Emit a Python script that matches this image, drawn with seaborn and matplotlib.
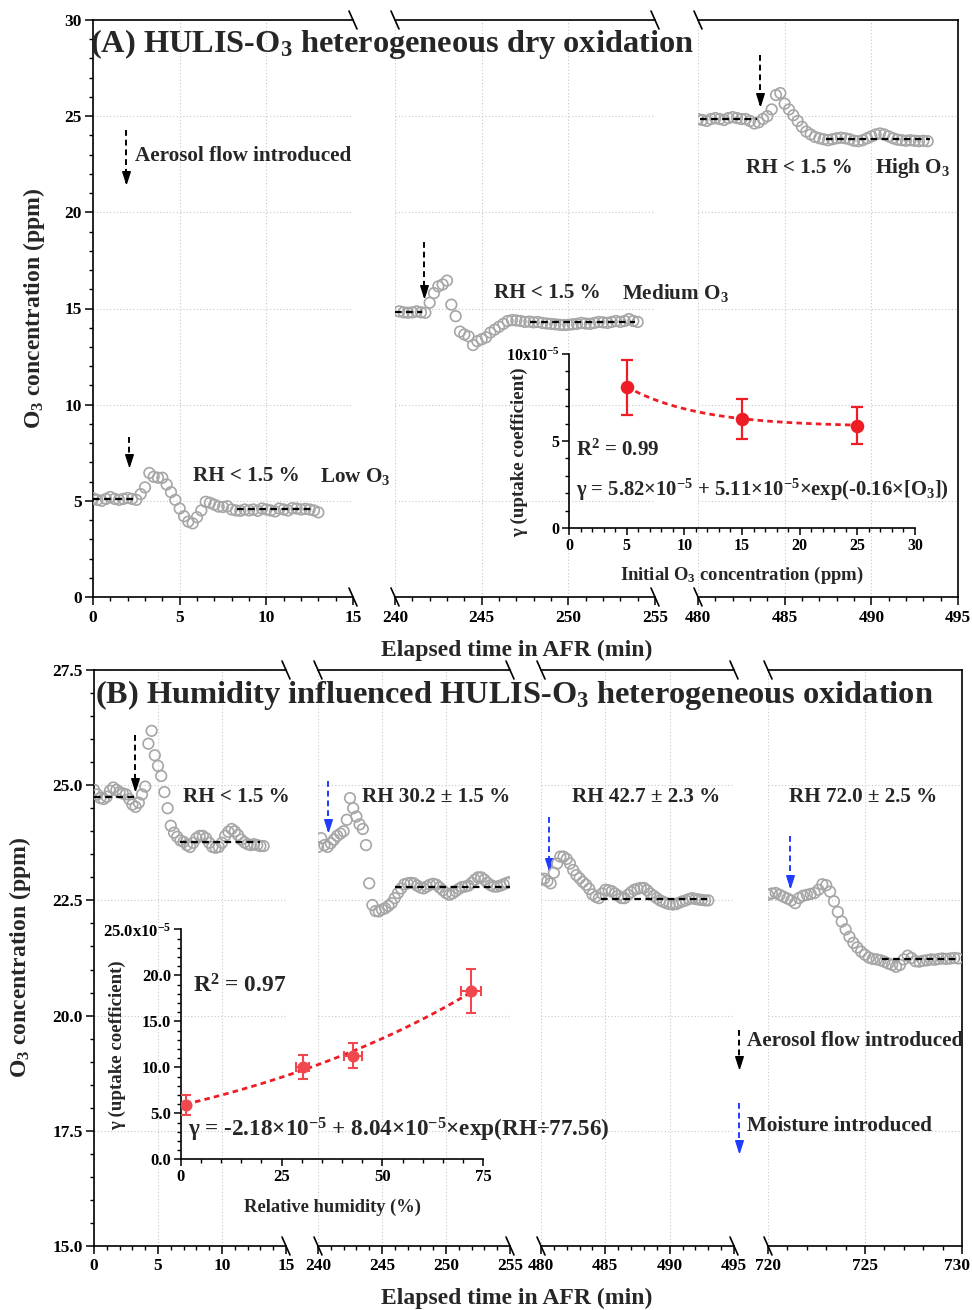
import numpy as np
import pandas as pd
import matplotlib
matplotlib.use("Agg")
import matplotlib.pyplot as plt
import matplotlib.ticker as ticker
import matplotlib.transforms as mtransforms
import seaborn as sns

sns.set_theme(style="ticks")
plt.rcParams["font.family"] = ["Liberation Serif", "DejaVu Serif"]
plt.rcParams["font.weight"] = "bold"
plt.rcParams["axes.labelweight"] = "bold"
plt.rcParams["mathtext.fontset"] = "custom"
plt.rcParams["mathtext.default"] = "regular"
plt.rcParams["axes.linewidth"] = 1.2

W, H = 972, 1310

# ── data ─────────────────────────────────────────────────────────────────────
STEP = 0.25          # sampling step (min) of the O3 monitor

# panel A: dry oxidation at three O3 levels
a1_start = 0.0
a1_o3 = [5.13, 5.05, 5.00, 5.10, 5.20, 5.10, 5.05, 5.10, 5.15, 5.10,
         5.05, 5.35, 5.70, 6.45, 6.25, 6.20, 6.20, 5.85, 5.45, 5.05,
         4.60, 4.20, 3.92, 3.83, 4.15, 4.50, 4.95, 4.90, 4.80, 4.70,
         4.68, 4.72, 4.55, 4.50, 4.48, 4.55, 4.50, 4.55, 4.48, 4.60,
         4.55, 4.50, 4.45, 4.60, 4.55, 4.50, 4.62, 4.60, 4.55, 4.58,
         4.55, 4.50, 4.40]
a2_start = 240.25
a2_o3 = [14.85, 14.80, 14.78, 14.80, 14.85, 14.80, 14.78, 15.30, 15.80, 16.15,
         16.25, 16.45, 15.20, 14.60, 13.80, 13.65, 13.55, 13.10, 13.30, 13.40,
         13.50, 13.75, 13.90, 14.05, 14.20, 14.35, 14.40, 14.38, 14.35, 14.30,
         14.32, 14.28, 14.30, 14.25, 14.22, 14.20, 14.18, 14.15, 14.14, 14.15,
         14.18, 14.20, 14.25, 14.22, 14.20, 14.25, 14.30, 14.28, 14.25, 14.30,
         14.35, 14.30, 14.35, 14.45, 14.35, 14.30]
a3_start = 480.0
a3_o3 = [24.85, 24.80, 24.75, 24.85, 24.90, 24.85, 24.80, 24.90, 24.95, 24.90,
         24.85, 24.85, 24.75, 24.62, 24.68, 24.85, 25.00, 25.35, 26.10, 26.20,
         25.65, 25.35, 25.05, 24.75, 24.45, 24.20, 24.05, 23.92, 23.85, 23.80,
         23.75, 23.80, 23.85, 23.88, 23.85, 23.80, 23.72, 23.70, 23.75, 23.85,
         23.95, 24.05, 24.10, 24.05, 23.95, 23.85, 23.78, 23.75, 23.72, 23.75,
         23.72, 23.70, 23.72, 23.70]

# panel B: high O3 at four humidity levels
b1_start = 0.0
b1_o3 = [24.90, 24.80, 24.72, 24.70, 24.75, 24.88, 24.95, 24.90, 24.85, 24.82,
         24.80, 24.70, 24.58, 24.53, 24.62, 24.80, 24.97, 25.90, 26.18, 25.65,
         25.42, 25.20, 24.85, 24.50, 24.12, 23.97, 23.88, 23.80, 23.77, 23.70,
         23.66, 23.75, 23.85, 23.90, 23.90, 23.85, 23.75, 23.66, 23.64, 23.66,
         23.75, 23.90, 23.99, 24.05, 24.00, 23.92, 23.82, 23.76, 23.72, 23.70,
         23.72, 23.70, 23.68, 23.68]
b2_start = 240.0
b2_o3 = [23.66, 23.85, 23.70, 23.66, 23.74, 23.82, 23.90, 23.95, 24.00, 24.25,
         24.72, 24.50, 24.32, 24.15, 24.05, 23.70, 22.87, 22.40, 22.27, 22.26,
         22.30, 22.33, 22.38, 22.44, 22.55, 22.66, 22.76, 22.85, 22.87, 22.88,
         22.87, 22.82, 22.78, 22.76, 22.80, 22.84, 22.86, 22.84, 22.78, 22.72,
         22.66, 22.62, 22.65, 22.70, 22.75, 22.79, 22.80, 22.82, 22.88, 22.95,
         23.00, 23.00, 22.95, 22.88, 22.83, 22.80, 22.80, 22.82, 22.85, 22.88,
         22.90]
b3_start = 480.0
b3_o3 = [22.95, 22.97, 22.92, 22.87, 23.10, 23.30, 23.45, 23.45, 23.40, 23.30,
         23.16, 23.05, 22.98, 22.90, 22.84, 22.75, 22.63, 22.58, 22.55, 22.65,
         22.73, 22.72, 22.70, 22.65, 22.60, 22.55, 22.55, 22.62, 22.68, 22.73,
         22.75, 22.77, 22.77, 22.72, 22.65, 22.60, 22.55, 22.50, 22.47, 22.44,
         22.42, 22.41, 22.42, 22.45, 22.48, 22.50, 22.53, 22.55, 22.53, 22.52,
         22.51, 22.50, 22.50]
b4_start = 720.0
b4_step = 0.2
b4_o3 = [22.62, 22.65, 22.66, 22.62, 22.58, 22.54, 22.50, 22.44, 22.55, 22.60,
         22.62, 22.64, 22.66, 22.73, 22.85, 22.83, 22.69, 22.48, 22.25, 22.04,
         21.87, 21.71, 21.58, 21.48, 21.39, 21.32, 21.26, 21.23, 21.22, 21.20,
         21.17, 21.13, 21.10, 21.06, 21.10, 21.22, 21.30, 21.25, 21.18, 21.17,
         21.19, 21.20, 21.22, 21.21, 21.23, 21.24, 21.23, 21.24, 21.25, 21.24]

# steady-state levels (t_start, t_end, ppm)
a_base = [[(0.0, 2.3, 5.10), (8.3, 12.7, 4.55)],
          [(240.0, 241.55, 14.80), (247.8, 253.85, 14.32)],
          [(480.1, 483.4, 24.85), (487.4, 493.4, 23.80)]]
b_base = [[(0.0, 3.45, 24.75), (6.7, 12.95, 23.76)],
          [(246.0, 255.0, 22.80)],
          [(484.7, 492.9, 22.52)],
          [(725.86, 729.9, 21.22)]]

# inset A: uptake coefficient vs initial O3 (x1e-5)
o3_init = [5, 15, 25]
gamma_a = [8.08, 6.28, 5.89]
gamma_a_err = [1.57, 1.16, 1.05]
fit_a = (5.82, 5.11, -0.16)          # y0 + A*exp(k*x)

# inset B: uptake coefficient vs RH (x1e-5)
rh = [1.2, 30.2, 42.7, 72.0]
rh_err = [0.3, 1.5, 2.3, 2.5]
gamma_b = [5.90, 10.07, 11.27, 18.30]
gamma_b_err = [1.05, 1.30, 1.35, 2.35]
fit_b = (-2.18, 8.04, 77.56)         # y0 + A*exp(x/t)

GREY = "#a6a6a6"
RED = "#ee1c24"
RED_B = "#f0484e"
BLUE = "#1f3cff"


# ── helpers ──────────────────────────────────────────────────────────────────

def frac(x0, y0, x1, y1):
    return [x0 / W, 1 - y1 / H, (x1 - x0) / W, (y1 - y0) / H]


def series(start, vals, step=STEP):
    return pd.DataFrame({"t": start + step * np.arange(len(vals)), "o3": vals})


def seg_row(fig, top, bottom, spans, xlims, xmaj, ylim, ymaj, ymin_, yfmt):
    axes = []
    n = len(spans)
    for i, ((x0, x1), xl) in enumerate(zip(spans, xlims)):
        ax = fig.add_axes(frac(x0, top, x1, bottom))
        ax.set_facecolor("none")
        ax.set_xlim(*xl)
        ax.set_ylim(*ylim)
        ax.xaxis.set_major_locator(ticker.MultipleLocator(xmaj[i]))
        ax.xaxis.set_minor_locator(ticker.MultipleLocator(1))
        ax.yaxis.set_major_locator(ticker.MultipleLocator(ymaj))
        ax.yaxis.set_minor_locator(ticker.MultipleLocator(ymin_))
        ax.yaxis.set_major_formatter(ticker.FormatStrFormatter(yfmt))
        ax.grid(True, which="major", ls=(0, (1, 2)), color="#c8c8c8", lw=0.8)
        ax.set_axisbelow(True)
        for s in ax.spines.values():
            s.set_color("black")
            s.set_linewidth(1.2)
        ax.spines["left"].set_visible(i == 0)
        ax.spines["right"].set_visible(i == n - 1)
        ax.tick_params(which="both", direction="out", top=False, right=False,
                       colors="black", labelsize=12.5)
        ax.tick_params(which="major", length=6, width=1.1, pad=3)
        ax.tick_params(which="minor", length=3, width=1.0)
        ax.tick_params(axis="y", pad=2)
        if i > 0:
            ax.tick_params(axis="y", which="both", left=False, labelleft=False)
        ax.set_xlabel("")
        ax.set_ylabel("")
        # break marks on top and bottom spines
        w_px, h_px = x1 - x0, bottom - top
        dx, dy = 4 / w_px, 9 / h_px
        ends = []
        if i > 0:
            ends.append(0.0)
        if i < n - 1:
            ends.append(1.0)
        for xe in ends:
            for ye in (0.0, 1.0):
                ax.plot([xe - dx, xe + dx], [ye + dy, ye - dy], color="black",
                        lw=1.2, transform=ax.transAxes, clip_on=False)
        axes.append(ax)
    return axes


def drop_arrow(ax, x, y_top, y_tip, color):
    ax.plot([x, x], [y_top, y_tip], ls=(0, (3, 2)), lw=1.4, color=color, clip_on=False)
    head = [(0, 0), (-0.32, 1), (0.32, 1), (0, 0)]
    ax.plot([x], [y_tip], marker=head, ms=17, color=color, mec=color, lw=0, clip_on=False)


def draw_trace(ax, df, base):
    sns.scatterplot(data=df, x="t", y="o3", ax=ax, marker="o", s=58,
                    facecolors="none", edgecolor=GREY, linewidth=1.2, legend=False,
                    zorder=3)
    for t0, t1, lv in base:
        ax.hlines(lv, t0, t1, colors="black", linestyles=(0, (3, 2)), lw=1.6, zorder=4)
    ax.set_xlabel("")
    ax.set_ylabel("")


fig = plt.figure(figsize=(W / 100, H / 100), dpi=100)

# ── panel A ──────────────────────────────────────────────────────────────────
axA = seg_row(fig, 20, 597, [(93, 353), (395, 655), (698, 958)],
              [(0, 15), (240, 255), (480, 495)], [5, 5, 5],
              (0, 30), 5, 1, "%g")

for ax, (st, vals), base in zip(axA, [(a1_start, a1_o3), (a2_start, a2_o3), (a3_start, a3_o3)], a_base):
    draw_trace(ax, series(st, vals), base)

drop_arrow(axA[0], 2.1, 8.3, 6.8, "black")
drop_arrow(axA[1], 241.67, 18.46, 15.6, "black")
drop_arrow(axA[2], 483.58, 28.2, 25.6, "black")
drop_arrow(axA[0], 1.9, 24.28, 21.5, "black")

tk = dict(fontsize=15.2, fontweight="bold", va="center", ha="left")
axA[0].text(2.45, 22.93, "Aerosol flow introduced", **tk)
axA[0].text(5.77, 6.29, "RH < 1.5 %", **tk)
axA[0].text(13.1, 6.29, "Low O$_3$", clip_on=False, **tk)
axA[1].text(245.71, 15.81, "RH < 1.5 %", **tk)
axA[1].text(253.1, 15.81, "Medium O$_3$", clip_on=False, **tk)
axA[2].text(482.77, 22.31, "RH < 1.5 %", **tk)
axA[2].text(490.2, 22.31, "High O$_3$", **tk)

axA[0].set_ylabel("O$_3$ concentration (ppm)", fontsize=17, fontweight="bold")
axA[0].yaxis.set_label_coords(-0.178, 0.5)
fig.text(90 / W, 1 - 44 / H, "(A) HULIS-O$_3$ heterogeneous dry oxidation",
         fontsize=23.3, fontweight="bold", va="center", ha="left")
fig.text(517 / W, 1 - 650 / H, "Elapsed time in AFR (min)",
         fontsize=17, fontweight="bold", va="center", ha="center")

# ── panel B ──────────────────────────────────────────────────────────────────
axB = seg_row(fig, 670, 1246, [(94, 286), (318, 510), (541, 734), (768, 962)],
              [(0, 15), (240, 255), (480, 495), (720, 730)], [5, 5, 5, 5],
              (15, 27.5), 2.5, 0.5, "%.1f")

traces_b = [series(b1_start, b1_o3), series(b2_start, b2_o3),
            series(b3_start, b3_o3), series(b4_start, b4_o3, b4_step)]
for ax, df, base in zip(axB, traces_b, b_base):
    draw_trace(ax, df, base)

drop_arrow(axB[0], 3.2, 26.1, 24.9, "black")
drop_arrow(axB[1], 240.78, 25.1, 24.0, BLUE)
drop_arrow(axB[2], 480.6, 24.3, 23.15, BLUE)
drop_arrow(axB[3], 721.13, 23.9, 22.8, BLUE)

axB[0].text(6.95, 24.74, "RH < 1.5 %", **tk)
axB[1].text(243.44, 24.74, "RH 30.2 ± 1.5 %", **tk)
axB[2].text(482.4, 24.74, "RH 42.7 ± 2.3 %", **tk)
axB[3].text(721.08, 24.74, "RH 72.0 ± 2.5 %", **tk)

drop_arrow(axB[3], 718.5, 19.69, 18.86, "black")
drop_arrow(axB[3], 718.5, 18.10, 17.04, BLUE)
axB[3].text(718.92, 19.45, "Aerosol flow introduced", clip_on=False, **tk)
axB[3].text(718.92, 17.60, "Moisture introduced", clip_on=False, **tk)

axB[0].set_ylabel("O$_3$ concentration (ppm)", fontsize=17, fontweight="bold")
axB[0].yaxis.set_label_coords(-0.318, 0.5)
fig.text(95 / W, 1 - 695 / H, "(B) Humidity influenced HULIS-O$_3$ heterogeneous oxidation",
         fontsize=23.3, fontweight="bold", va="center", ha="left")
fig.text(517 / W, 1 - 1298 / H, "Elapsed time in AFR (min)",
         fontsize=17, fontweight="bold", va="center", ha="center")

# last tick label sits on the figure edge: right-align it so it stays inside
for lbl in axB[3].get_xticklabels():
    if lbl.get_text() == "730":
        lbl.set_horizontalalignment("right")
        lbl.set_transform(lbl.get_transform() +
                          mtransforms.ScaledTranslation(8 / 100, 0, fig.dpi_scale_trans))


# ── insets ───────────────────────────────────────────────────────────────────

def style_inset(ax, lsize):
    ax.set_facecolor("none")
    ax.grid(False)
    ax.spines["top"].set_visible(False)
    ax.spines["right"].set_visible(False)
    for s in ("left", "bottom"):
        ax.spines[s].set_color("black")
        ax.spines[s].set_linewidth(1.2)
    ax.tick_params(which="both", direction="out", colors="black", labelsize=lsize)
    ax.tick_params(which="major", length=5, width=1.1, pad=2)
    ax.tick_params(which="minor", length=3, width=1.0)


insA = fig.add_axes(frac(569, 354, 915, 528))
style_inset(insA, 11.5)
xa = np.linspace(o3_init[0], o3_init[-1], 60)
fit_df_a = pd.DataFrame({"x": xa, "y": fit_a[0] + fit_a[1] * np.exp(fit_a[2] * xa)})
sns.lineplot(data=fit_df_a, x="x", y="y", ax=insA, color=RED, lw=2,
             linestyle=(0, (2, 1.5)), zorder=2)
insA.errorbar(o3_init, gamma_a, yerr=gamma_a_err, fmt="none", ecolor=RED,
              elinewidth=1.6, capsize=4, capthick=1.6, zorder=3)
sns.scatterplot(x=o3_init, y=gamma_a, ax=insA, color=RED, s=95, edgecolor=RED,
                linewidth=0, zorder=4, legend=False)
insA.set_xlim(0, 30)
insA.set_ylim(0, 10)
insA.xaxis.set_major_locator(ticker.MultipleLocator(5))
insA.xaxis.set_minor_locator(ticker.MultipleLocator(1))
insA.set_yticks([0, 5, 10])
insA.set_yticklabels(["0", "5", "10x10$^{-5}$"])
insA.yaxis.set_minor_locator(ticker.MultipleLocator(1))
insA.set_xlabel("Initial O$_3$ concentration (ppm)", fontsize=13.4, fontweight="bold")
insA.set_ylabel("γ (uptake coefficient)", fontsize=13.6, fontweight="bold")
insA.yaxis.set_label_coords(-0.118, 0.437)
insA.xaxis.set_label_coords(0.5, -0.213)
insA.text(0.6, 4.48, "R$^2$ = 0.99", fontsize=15, fontweight="bold", va="center")
insA.text(0.6, 2.18, "γ = 5.82×10$^{-5}$ + 5.11×10$^{-5}$×exp(-0.16×[O$_3$])",
          fontsize=14.9, fontweight="bold", va="center", clip_on=False)

insB = fig.add_axes(frac(180.7, 929.3, 483.3, 1159.3))
style_inset(insB, 12)
xb = np.linspace(rh[0], rh[-1], 60)
fit_df_b = pd.DataFrame({"x": xb, "y": fit_b[0] + fit_b[1] * np.exp(xb / fit_b[2])})
sns.lineplot(data=fit_df_b, x="x", y="y", ax=insB, color=RED, lw=2,
             linestyle=(0, (2, 1.5)), zorder=2)
insB.errorbar(rh, gamma_b, yerr=gamma_b_err, xerr=rh_err, fmt="none", ecolor=RED_B,
              elinewidth=1.5, capsize=3.5, capthick=1.5, zorder=3)
sns.scatterplot(x=rh, y=gamma_b, ax=insB, color=RED_B, s=75, edgecolor=RED_B,
                linewidth=0, zorder=4, legend=False)
insB.set_xlim(0, 75)
insB.set_ylim(0, 25)
insB.xaxis.set_major_locator(ticker.MultipleLocator(25))
insB.xaxis.set_minor_locator(ticker.MultipleLocator(5))
insB.set_yticks([0, 5, 10, 15, 20, 25])
insB.set_yticklabels(["0.0", "5.0", "10.0", "15.0", "20.0", "25.0x10$^{-5}$"])
insB.yaxis.set_minor_locator(ticker.MultipleLocator(1))
insB.set_xlabel("Relative humidity (%)", fontsize=13.3, fontweight="bold")
insB.set_ylabel("γ (uptake coefficient)", fontsize=13.6, fontweight="bold")
insB.yaxis.set_label_coords(-0.181, 0.496)
insB.xaxis.set_label_coords(0.5, -0.17)
insB.text(3.0, 18.9, "R$^2$ = 0.97", fontsize=16.8, fontweight="bold", va="center")
insB.text(1.8, 3.2, "γ = -2.18×10$^{-5}$ + 8.04×10$^{-5}$×exp(RH÷77.56)",
          fontsize=16.7, fontweight="bold", va="center", clip_on=False)

fig.savefig("out.png", dpi=100)
